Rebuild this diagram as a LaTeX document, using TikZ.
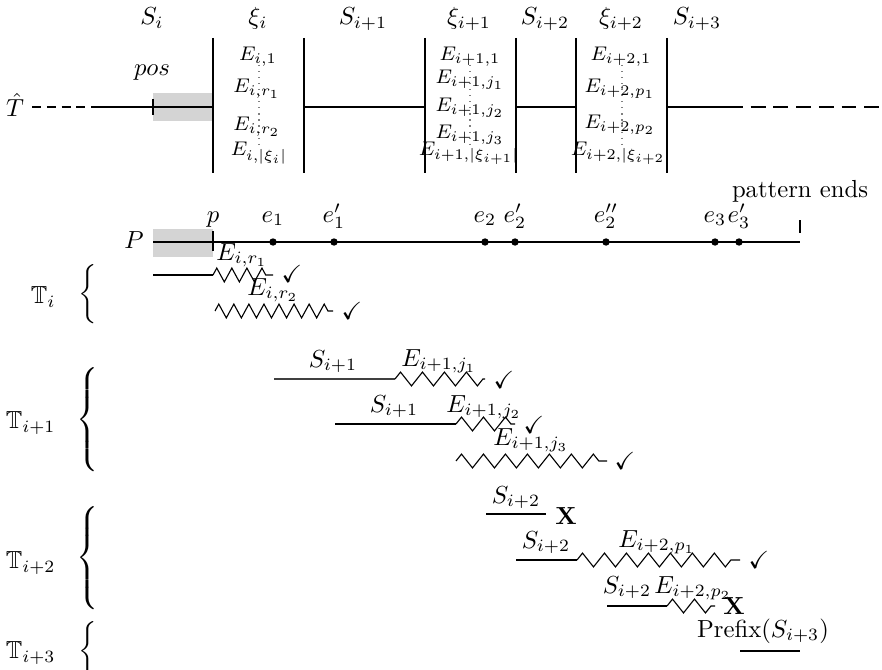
\documentclass[tikz,border=0pt]{standalone}
\usepackage{amssymb}
\usetikzlibrary{decorations.pathmorphing}
\begin{document}
\begin{tikzpicture}[x=0.405pt,y=-0.405pt,
  heavy/.style={line width=0.9pt},
  light/.style={line width=0.45pt},
  shortdash/.style={heavy, dash pattern=on 3.6pt off 2.4pt},
  longdash/.style={heavy, dash pattern=on 6pt off 3.2pt},
  zzs/.style={decorate, line width=0.45pt,
    decoration={zigzag, segment length=6.1pt, amplitude=2.8pt}},
  zzl/.style={decorate, line width=0.45pt,
    decoration={zigzag, segment length=8.9pt, amplitude=2.8pt}},
  dotline/.style={dotted, gray, line width=0.45pt},
  lbl/.style={inner sep=0pt, anchor=base},
  elbl/.style={inner sep=0pt, font=\footnotesize},
  verdict/.style={inner sep=0pt},
  dot/.style={circle, fill, inner sep=0pt, minimum size=3pt},
  shadebox/.style={fill=black!17, draw=none},
  tick/.style={line width=0.45pt}]
\useasboundingbox (0,0) rectangle (882,669);

% ---------------- text T-hat with its blocks ----------------
\fill[shadebox] (153,93) rectangle (213,121);
\node[lbl] (that) at (15,117) {$\hat{T}$};
\coordinate (t0) at (32,107);
\coordinate (t1) at (93,107);
\coordinate (tend) at (880,107);
\coordinate (tdash) at (728,107);
\draw[shortdash] (t0) -- (t1);
\draw[heavy] (t1) -- (213,107);
\draw[tick] (153,99) -- (153,115);
\node[lbl] (pos) at (152,76) {$pos$};

% vertical separators
\foreach \name/\x in {b1/213,b2/304,b3/425,b4/516,b5/576,b6/667}
  \draw[heavy] (\x,38) coordinate (\name t) -- (\x,173) coordinate (\name b);
\draw[heavy] (304,107) -- (425,107);
\draw[heavy] (516,107) -- (576,107);
\draw[heavy] (667,107) -- (tdash);
\draw[longdash] (tdash) -- (tend);

% block labels
\node[lbl] (si)   at (152,25) {$S_i$};
\node[lbl] (xi)   at (258,25) {$\xi_i$};
\node[lbl] (si1)  at (363,25) {$S_{i+1}$};
\node[lbl] (xi1)  at (469,25) {$\xi_{i+1}$};
\node[lbl] (si2)  at (545,25) {$S_{i+2}$};
\node[lbl] (xi2)  at (621,25) {$\xi_{i+2}$};
\node[lbl] (si3)  at (697,25) {$S_{i+3}$};

% entries of xi_i
\draw[dotline] (259,65) -- (259,147);
\node[elbl] (a1) at (258,57)  {$E_{i,1}$};
\node[elbl] (a2) at (257,89)  {$E_{i,r_1}$};
\node[elbl] (a3) at (257,127) {$E_{i,r_2}$};
\node[elbl] (a4) at (259,153) {$E_{i,|\xi_i|}$};

% entries of xi_{i+1}
\draw[dotline] (470,65) -- (470,147);
\node[elbl] (b1) at (470,57)  {$E_{i+1,1}$};
\node[elbl] (b2) at (470,80)  {$E_{i+1,j_1}$};
\node[elbl] (b3) at (470,108) {$E_{i+1,j_2}$};
\node[elbl] (b4) at (470,135) {$E_{i+1,j_3}$};
\node[elbl] (b5) at (469,153) {$E_{i+1,|\xi_{i+1}|}$};

% entries of xi_{i+2}
\draw[dotline] (622,65) -- (622,147);
\node[elbl] (c1) at (621,57)  {$E_{i+2,1}$};
\node[elbl] (c2) at (620,89)  {$E_{i+2,p_1}$};
\node[elbl] (c3) at (620,125) {$E_{i+2,p_2}$};
\node[elbl] (c4) at (621,153) {$E_{i+2,|\xi_{i+2}|}$};

% ---------------- pattern P ----------------
\fill[shadebox] (153,229) rectangle (213,257);
\node[inner sep=0pt] (P) at (134,240) {$P$};
\coordinate (p0) at (153,242);
\coordinate (pend) at (800,242);
\draw[heavy] (p0) -- (pend);
\draw[tick] (213,231) -- (213,251);
\draw[tick] (800,220) -- (800,233);
\node[lbl] (plbl) at (213,222) {$p$};
\node[lbl] (pends) at (800,198) {pattern ends};
\foreach \name/\x/\t in {e1/273/{e_1},e1p/334/{e'_1},e2/485/{e_2},e2p/515/{e'_2},
                         e2pp/606/{e''_2},e3/715/{e_3},e3p/739/{e'_3}}{
  \node[dot] (\name) at (\x,242) {};
  \node[lbl] (\name l) at (\x,222) {$\t$};
}

% ---------------- T_i ----------------
\node[inner sep=0pt, anchor=east] (Ti) at (56,297) {$\mathbb{T}_i$};
\node[inner sep=0pt] (Tib) at (89,294) {$\left\{\vrule height 9.1pt depth 9.1pt width 0pt\right.$};
\draw[light] (153,275) -- (213,275);
\draw[zzs] (213,275) -- (273,275);
\node[lbl] at (242,260) {$E_{i,r_1}$};
\node[verdict] at (292,274) {$\checkmark$};
\draw[zzs] (215,311) -- (333,311);
\node[lbl] at (273,295) {$E_{i,r_2}$};
\node[verdict] at (352,311) {$\checkmark$};

% ---------------- T_{i+1} ----------------
\node[inner sep=0pt, anchor=east] (Ti1) at (56,423) {$\mathbb{T}_{i+1}$};
\node[inner sep=0pt] (Ti1b) at (89,420) {$\left\{\vrule height 18.8pt depth 18.8pt width 0pt\right.$};
\draw[light, black!75] (274,379) -- (395,379);
\draw[zzl] (395,379) -- (485,379);
\node[lbl] at (333,367) {$S_{i+1}$};
\node[lbl] at (439,366) {$E_{i+1,j_1}$};
\node[verdict] at (504,380) {$\checkmark$};
\draw[light] (335,424) -- (456,424);
\draw[zzl] (456,424) -- (515,424);
\node[lbl] at (394,412) {$S_{i+1}$};
\node[lbl] at (484,412) {$E_{i+1,j_2}$};
\node[verdict] at (534,425) {$\checkmark$};
\draw[zzl] (456,461) -- (607,461);
\node[lbl] at (531,445) {$E_{i+1,j_3}$};
\node[verdict] at (625,461) {$\checkmark$};

% ---------------- T_{i+2} ----------------
\node[inner sep=0pt, anchor=east] (Ti2) at (56,563) {$\mathbb{T}_{i+2}$};
\node[inner sep=0pt] (Ti2b) at (89,560) {$\left\{\vrule height 20.2pt depth 20.2pt width 0pt\right.$};
\draw[light] (486,514) -- (546,514);
\node[lbl] at (516,503) {$S_{i+2}$};
\node[verdict] at (566,516) {$\mathbf{X}$};
\draw[light] (516,560) -- (577,560);
\draw[zzl] (577,560) -- (740,560);
\node[lbl] at (546,548) {$S_{i+2}$};
\node[lbl] at (657,547) {$E_{i+2,p_1}$};
\node[verdict] at (759,560) {$\checkmark$};
\draw[light] (607,606) -- (667,606);
\draw[zzl] (667,606) -- (715,606);
\node[lbl] at (627,593) {$S_{i+2}$};
\node[lbl] at (693,593) {$E_{i+2,p_2}$};
\node[verdict] at (734,606) {$\mathbf{X}$};
\draw[light] (740,651) -- (800,651);
\node[lbl] at (763,637) {Prefix$(S_{i+3})$};

% ---------------- T_{i+3} ----------------
\node[inner sep=0pt, anchor=east] (Ti3) at (56,653) {$\mathbb{T}_{i+3}$};
\node[inner sep=0pt] (Ti3b) at (89,651) {$\left\{\vrule height 7.7pt depth 7.7pt width 0pt\right.$};
\end{tikzpicture}
\end{document}
